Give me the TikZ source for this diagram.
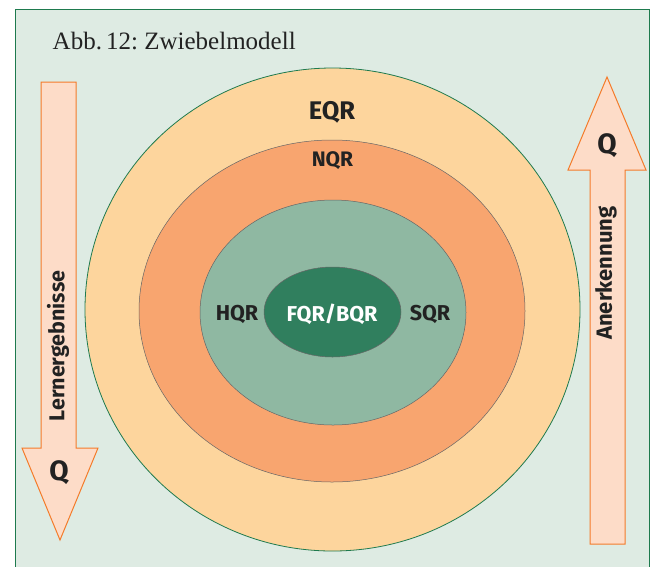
\documentclass[tikz,border=0pt]{standalone}
\usepackage{fontspec}
\setmainfont{Liberation Serif}
\newfontfamily\labelfont{Fira Sans}
\frenchspacing
\begin{document}
\definecolor{panel}{HTML}{DEEBE3}
\definecolor{panelline}{HTML}{1E7A4E}
\definecolor{ringE}{HTML}{FDD59D}
\definecolor{ringN}{HTML}{F8A56F}
\definecolor{ringH}{HTML}{8FB8A2}
\definecolor{core}{HTML}{307F5E}
\definecolor{arrowfill}{HTML}{FDDCC8}
\definecolor{arrowline}{HTML}{F47B2A}
\definecolor{txt}{HTML}{222222}
\begin{tikzpicture}[x=1pt,y=-1pt,
  ring/.style={draw=gray!80!black, line width=0.5pt},
  lbl/.style={font=\labelfont\bfseries, text=txt, inner sep=0pt},
  qarrow/.style={draw=arrowline, fill=arrowfill, line width=1pt, line join=miter}]
  % page and panel
  \useasboundingbox (0,0) rectangle (652,566);
  \fill[white] (0,0) rectangle (652,566);
  \draw[panelline, fill=panel, line width=0.8pt] (15,575) -- (15,9) -- (649,9) -- (649,575);
  \node[anchor=base west, inner sep=0pt, font=\fontsize{25}{28}\selectfont, text=txt] (title) at (52.5,49.5) {Abb.\,12: Zwiebelmodell};

  % onion rings
  \draw[draw=panelline, fill=ringE, line width=0.8pt] (332.5,309.5) ellipse [x radius=247.5, y radius=241.5];
  \draw[ring, fill=ringN] (332,311) ellipse [x radius=193, y radius=171];
  \draw[ring, fill=ringH] (333,312.5) ellipse [x radius=133, y radius=112.5];
  \draw[ring, fill=core] (332.5,312) ellipse [x radius=68.5, y radius=45];

  \node[lbl, font=\labelfont\bfseries\fontsize{25.5}{28}\selectfont] (eqr) at (332,112) {EQR};
  \node[lbl, font=\labelfont\bfseries\fontsize{21}{24}\selectfont] (nqr) at (332.5,161) {NQR};
  \node[lbl, font=\labelfont\bfseries\fontsize{21.5}{24}\selectfont] (hqr) at (237,314) {HQR};
  \node[lbl, font=\labelfont\bfseries\fontsize{21.5}{24}\selectfont] (sqr) at (430,314) {SQR};
  \node[lbl, font=\labelfont\bfseries\fontsize{21.5}{24}\selectfont, text=white] (fqr) at (332,314) {FQR/BQR};

  % downward arrow (Lernergebnisse)
  \draw[qarrow] (41,82) -- (76,82) -- (76,448) -- (98,448) -- (60,540) -- (22,448) -- (41,448) -- cycle;
  \node[lbl, rotate=90, font=\labelfont\bfseries\fontsize{21.5}{24}\selectfont] (lern) at (58,346) {Lernergebnisse};
  \node[lbl, font=\labelfont\bfseries\fontsize{28}{30}\selectfont] (qdown) at (59,473) {Q};

  % upward arrow (Anerkennung)
  \draw[qarrow] (590,544) -- (625,544) -- (625,170) -- (646,170) -- (607,77) -- (568,170) -- (590,170) -- cycle;
  \node[lbl, rotate=90, font=\labelfont\bfseries\fontsize{22}{24}\selectfont] (anerk) at (606,273) {Anerkennung};
  \node[lbl, font=\labelfont\bfseries\fontsize{28}{30}\selectfont] (qup) at (607,146) {Q};
\end{tikzpicture}
\end{document}
